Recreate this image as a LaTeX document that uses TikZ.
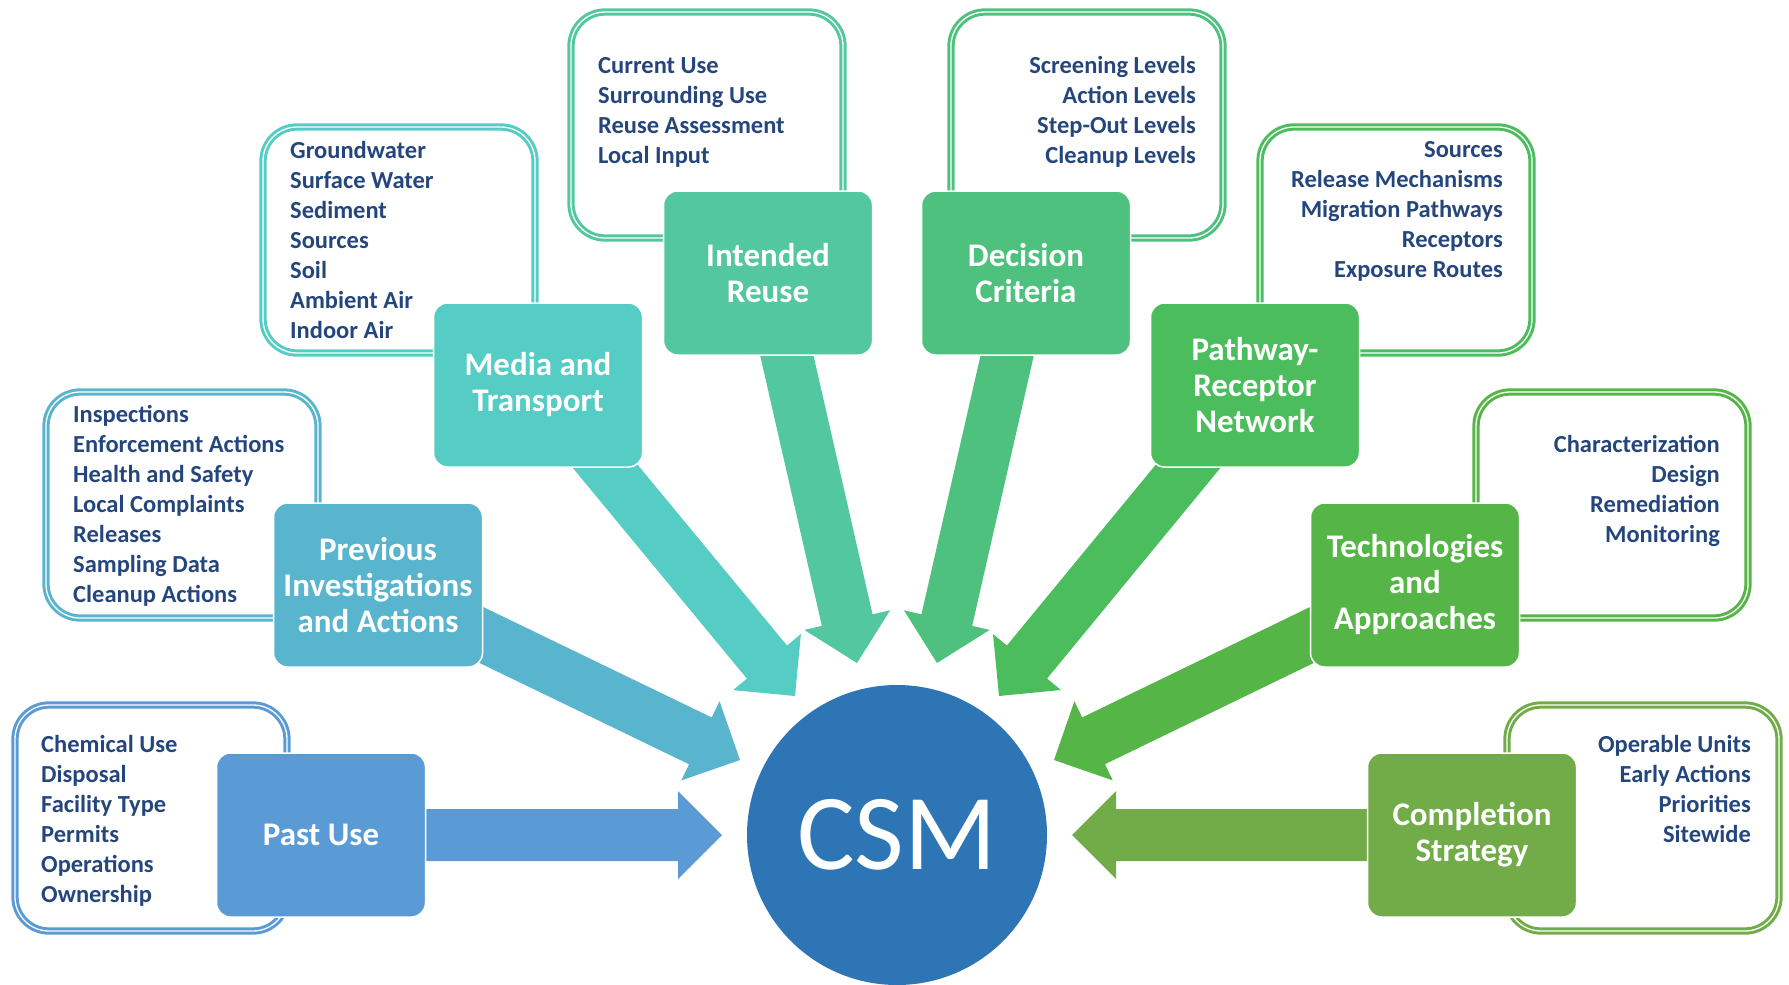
\documentclass[tikz,border=0pt]{standalone}
\usepackage{fontspec}
\setmainfont{Carlito}
\usetikzlibrary{calc,backgrounds}

\definecolor{pastblue}{RGB}{91,155,213}
\definecolor{prevblue}{RGB}{89,181,206}
\definecolor{mediateal}{RGB}{85,204,196}
\definecolor{reusegreen}{RGB}{82,199,160}
\definecolor{criteriagreen}{RGB}{78,193,126}
\definecolor{pathwaygreen}{RGB}{76,189,92}
\definecolor{techgreen}{RGB}{86,181,71}
\definecolor{stratgreen}{RGB}{114,172,72}
\definecolor{csmblue}{RGB}{46,117,182}
\definecolor{itemblue}{RGB}{36,70,124}

% fat arrow from a box centre to a tip coordinate
\newcommand\blockarrow[3]{%
  \coordinate (head) at ($(#2)!44pt!(#1.center)$);
  \fill[#3] ($(#1.center)!26pt!90:(#2)$) -- ($(head)!26pt!-90:(#1.center)$)
    -- ($(head)!44pt!-90:(#1.center)$) -- (#2)
    -- ($(head)!44pt!90:(#1.center)$) -- ($(head)!26pt!90:(#1.center)$)
    -- ($(#1.center)!26pt!-90:(#2)$) -- cycle;
}

\begin{document}
\begin{tikzpicture}[x=1pt,y=-1pt]
\tikzstyle{listbox}=[rounded corners=34pt,minimum width=272pt,minimum height=226pt,
  line width=3pt,double=white,double distance=1.3pt,inner sep=0pt]
\tikzstyle{entry}=[text=itemblue,font=\bfseries\fontsize{24.5}{30}\selectfont,inner sep=0pt]
\tikzstyle{topic}=[rounded corners=14pt,minimum width=209pt,minimum height=164pt,
  draw=white,line width=1.5pt,text=white,align=center,inner sep=0pt,
  font=\bfseries\fontsize{33}{36}\selectfont]
\useasboundingbox (0,0) rectangle (1789,985);

  % outlined lists
  \foreach \place/\name/\col in {{(151,818)/pastlist/pastblue},
                                 {(182,505)/prevlist/prevblue},
                                 {(399,240)/medialist/mediateal},
                                 {(707,125)/reuselist/reusegreen},
                                 {(1087,125)/criterialist/criteriagreen},
                                 {(1396,240)/pathwaylist/pathwaygreen},
                                 {(1612,505)/techlist/techgreen},
                                 {(1643,818)/stratlist/stratgreen}}
    \node[listbox,draw=\col] (\name) at \place {};

  \foreach \name/\x/\y/\side/\items in {
      past/41/752/west/{Chemical Use,Disposal,Facility Type,Permits,Operations,Ownership},
      prev/73/422/west/{Inspections,Enforcement Actions,Health and Safety,Local Complaints,Releases,Sampling Data,Cleanup Actions},
      media/290/158/west/{Groundwater,Surface Water,Sediment,Sources,Soil,Ambient Air,Indoor Air},
      reuse/598/73/west/{Current Use,Surrounding Use,Reuse Assessment,Local Input},
      criteria/1196/73/east/{Screening Levels,Action Levels,Step-Out Levels,Cleanup Levels},
      pathway/1503/157/east/{Sources,Release Mechanisms,Migration Pathways,Receptors,Exposure Routes},
      tech/1720/452/east/{Characterization,Design,Remediation,Monitoring},
      strat/1751/752/east/{Operable Units,Early Actions,Priorities,Sitewide}}
    \foreach \txt [count=\i] in \items
      \node[entry,anchor=base \side] (\name item-\i) at (\x,{\y+30*(\i-1)}) {\txt};

  % coloured topic boxes
  \foreach \place/\name/\col/\txt in {{(321,835)/past/pastblue/Past Use},
                                      {(378,585)/prev/prevblue/Previous\\Investigations\\and Actions},
                                      {(538,385)/media/mediateal/Media and\\Transport},
                                      {(768,273)/reuse/reusegreen/Intended\\Reuse},
                                      {(1026,273)/criteria/criteriagreen/Decision\\Criteria},
                                      {(1255,385)/pathway/pathwaygreen/Pathway-\\Receptor\\Network},
                                      {(1415,585)/tech/techgreen/Technologies\\and\\Approaches},
                                      {(1472,835)/strat/stratgreen/Completion\\Strategy}}
    \node[topic,fill=\col] (\name) at \place {\txt};

  \node[circle,fill=csmblue,minimum size=300pt,inner sep=0pt,text=white,
    font=\fontsize{108}{108}\selectfont] (csm) at (897,835) {CSM};

  % arrow tips round the circle
  \foreach \place/\name in {{(722,835)/pasttip},
                            {(740,760)/prevtip},
                            {(795,696)/mediatip},
                            {(857,663)/reusetip},
                            {(937,663)/criteriatip},
                            {(999,696)/pathwaytip},
                            {(1054,760)/techtip},
                            {(1072,835)/strattip}}
    \node[coordinate] (\name) at \place {};

  \begin{scope}[on background layer]
  \foreach \source/\dest/\col in {past/pasttip/pastblue,prev/prevtip/prevblue,
                                  media/mediatip/mediateal,reuse/reusetip/reusegreen,
                                  criteria/criteriatip/criteriagreen,pathway/pathwaytip/pathwaygreen,
                                  tech/techtip/techgreen,strat/strattip/stratgreen}
    {\blockarrow{\source}{\dest}{\col}}
  \end{scope}
\end{tikzpicture}
\end{document}
